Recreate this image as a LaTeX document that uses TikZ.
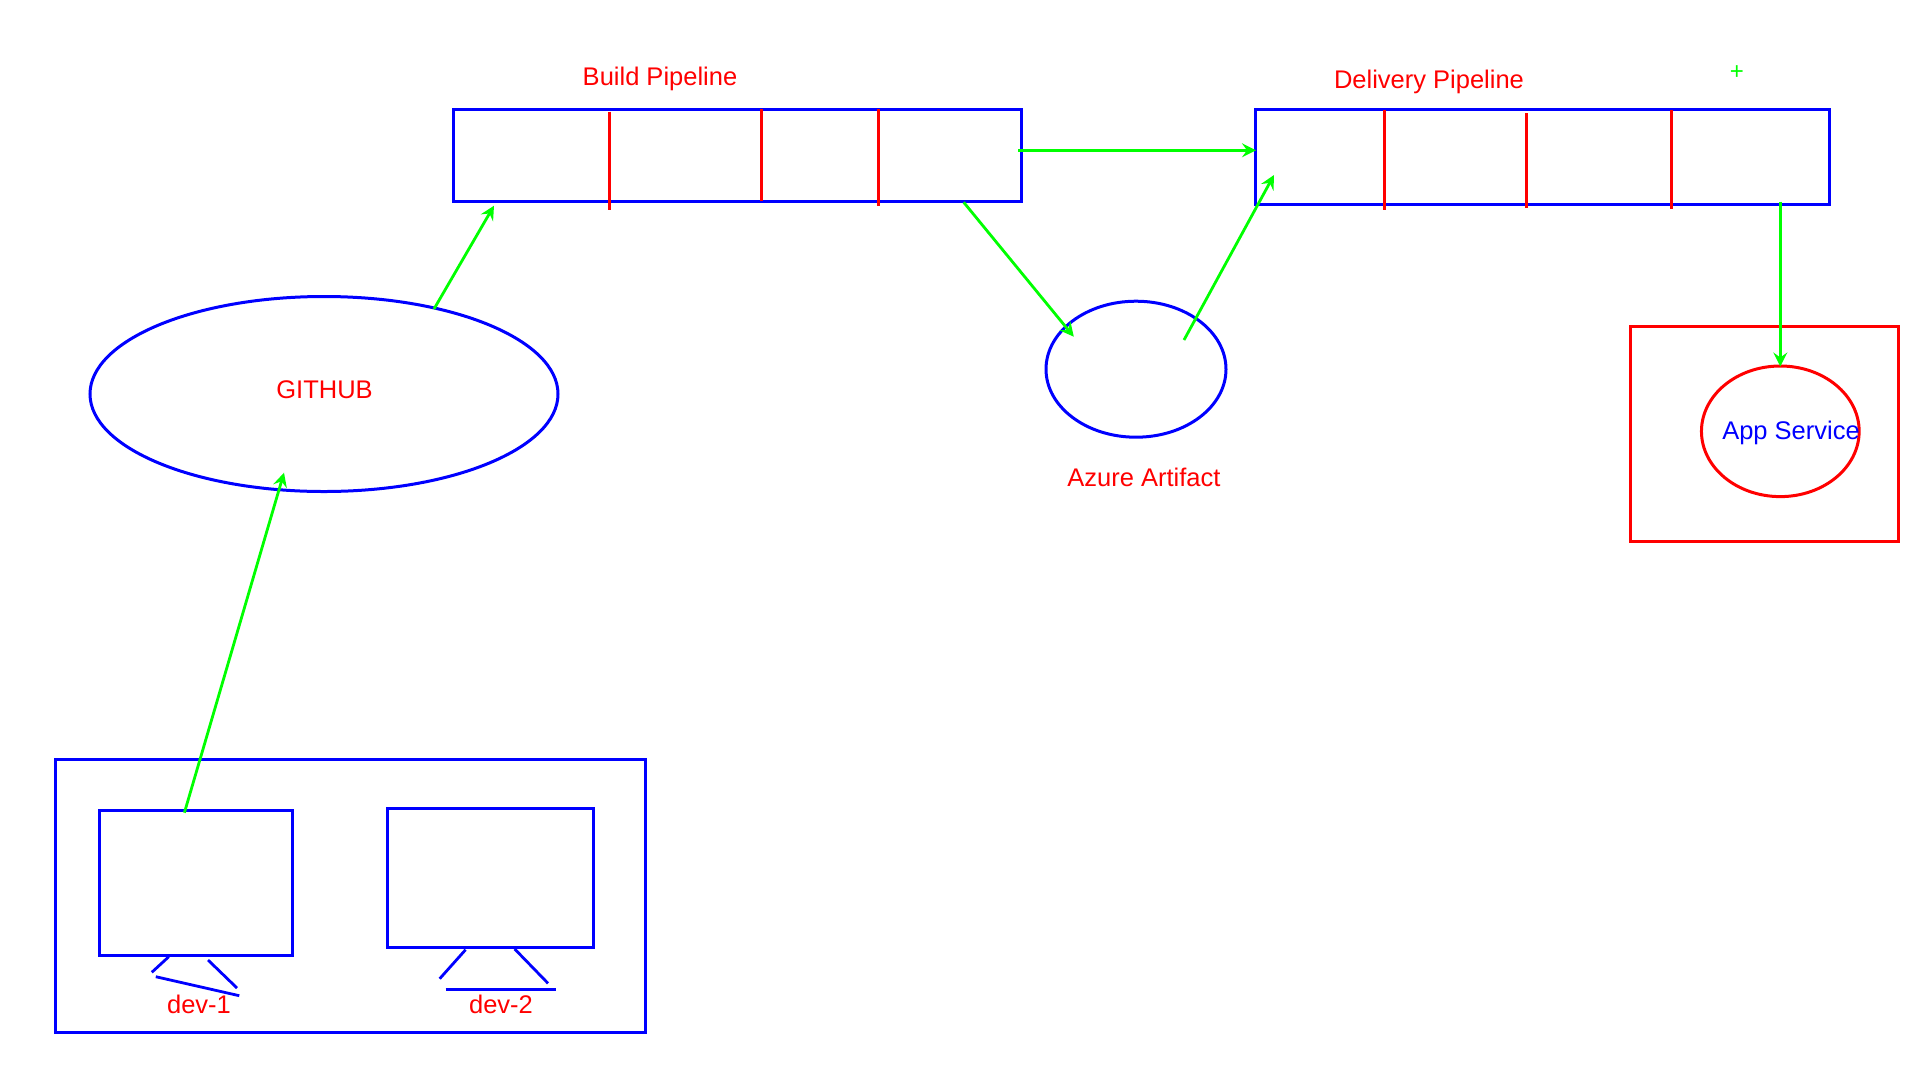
\documentclass[tikz,border=0pt]{standalone}
\usepackage{fontspec}
\setmainfont{Liberation Sans}
\usetikzlibrary{arrows.meta,shapes.geometric}
\tikzset{
	bluebox/.style={draw=blue,line width=3pt,inner sep=0pt,outer sep=0pt},
	redbox/.style={draw=red,line width=3pt,inner sep=0pt,outer sep=0pt},
	divider/.style={draw=red,line width=2.6pt},
	stand/.style={draw=blue,line width=2.8pt},
	flow/.style={draw=green,line width=2.8pt,-{Stealth[length=14pt,width=14pt,inset=5pt]}},
	redlabel/.style={text=red,anchor=base,inner sep=0pt,font=\fontsize{25.5}{30}\selectfont},
	bluelabel/.style={text=blue,anchor=base,inner sep=0pt,font=\fontsize{25.5}{30}\selectfont}
}
\begin{document}
\begin{tikzpicture}[x=1pt,y=-1pt]
	\useasboundingbox (0,0) rectangle (1920,1080);
	% developers
	\node[bluebox,minimum width=590pt,minimum height=273pt] (devs) at (350.5,895.8) {};
	\node[bluebox,minimum width=193pt,minimum height=145pt] (dev1) at (195.5,882.5) {};
	\node[bluebox,minimum width=205.5pt,minimum height=139pt] (dev2) at (490.3,877.5) {};
	\draw[stand] (168.8,956.7) -- (151.8,972.3);
	\draw[stand] (208,960) -- (237,988);
	\draw[stand] (155.8,976.7) -- (239.3,995.7);
	\draw[stand] (465.6,949.7) -- (439.7,978.7);
	\draw[stand] (514.7,949) -- (548,983.3);
	\draw[stand] (445.5,989.3) -- (556,989.3);
	\node[redlabel] (dev1label) at (199,1013) {dev-1};
	\node[redlabel] (dev2label) at (501,1013) {dev-2};
	% github
	\node[bluebox,ellipse,minimum width=468pt,minimum height=195pt] (github) at (324,394) {};
	\node[redlabel] (githublabel) at (324.5,398.5) {GITHUB};
	% pipelines
	\node[bluebox,minimum width=567.7pt,minimum height=92pt] (build) at (737.6,155.3) {};
	\node[bluebox,minimum width=573.5pt,minimum height=94.3pt] (delivery) at (1542.7,156.9) {};
	\node[redlabel] (buildlabel) at (660,85) {Build Pipeline};
	\node[redlabel] (deliverylabel) at (1429,88.3) {Delivery Pipeline};
	\draw[divider] (609.5,111.7) -- (609.5,210);
	\draw[divider] (761.5,109.3) -- (761.5,200.7);
	\draw[divider] (878.4,109.3) -- (878.4,206);
	\draw[divider] (1384.2,109.7) -- (1384.2,210);
	\draw[divider] (1526.5,113) -- (1526.5,208);
	\draw[divider] (1671.4,109.7) -- (1671.4,209);
	% artifact
	\node[bluebox,ellipse,minimum width=180pt,minimum height=136pt] (azure) at (1136,369.2) {};
	\node[redlabel] (azurelabel) at (1144,486.7) {Azure Artifact};
	% app service
	\node[redbox,minimum width=268.4pt,minimum height=215.5pt] (appbox) at (1764.5,433.8) {};
	\node[redbox,ellipse,minimum width=157.7pt,minimum height=130.6pt] (appcircle) at (1780.3,431.3) {};
	\node[bluelabel] (applabel) at (1791,439.5) {App Service};
	\node[text=green,inner sep=0pt,font=\fontsize{24}{26}\selectfont] (plus) at (1736.8,73) {+};
	% flows
	\coordinate (a1) at (184.4,812.7);
	\coordinate (a2) at (284,472.7);
	\coordinate (b1) at (434,309);
	\coordinate (b2) at (494,205.7);
	\coordinate (c1) at (1018,150.3);
	\coordinate (c2) at (1256,150.3);
	\coordinate (d1) at (963.7,202.3);
	\coordinate (d2) at (1073.8,336.7);
	\coordinate (e1) at (1184,340);
	\coordinate (e2) at (1274,175);
	\coordinate (f1) at (1780.3,201.6);
	\coordinate (f2) at (1780.3,366.5);
	\draw[flow] (a1) -- (a2);
	\draw[flow] (b1) -- (b2);
	\draw[flow] (c1) -- (c2);
	\draw[flow] (d1) -- (d2);
	\draw[flow] (e1) -- (e2);
	\draw[flow] (f1) -- (f2);
\end{tikzpicture}
\end{document}
